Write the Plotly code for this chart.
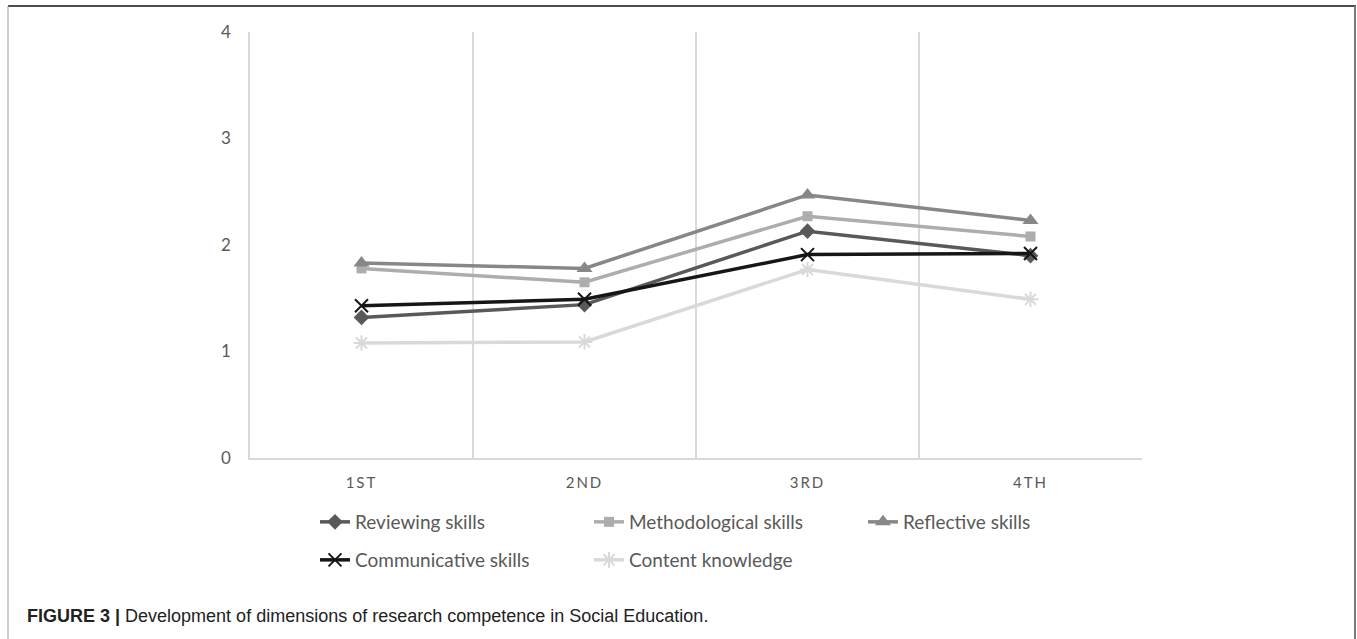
import plotly.graph_objects as go

# Academic years on the horizontal axis
years = ["1ST", "2ND", "3RD", "4TH"]

# Mean score of each research-competence dimension per year
reviewing = [1.32, 1.44, 2.13, 1.90]
methodological = [1.78, 1.65, 2.27, 2.08]
reflective = [1.83, 1.78, 2.47, 2.23]
communicative = [1.43, 1.49, 1.91, 1.92]
content = [1.08, 1.09, 1.77, 1.49]

series = [
    ("Reviewing skills", reviewing, "#595959", "diamond", 12, "legend"),
    ("Methodological skills", methodological, "#ADADAD", "square", 10, "legend"),
    ("Reflective skills", reflective, "#878787", "triangle-up", 14, "legend"),
    ("Communicative skills", communicative, "#161616", "x-thin-open", 13, "legend2"),
    ("Content knowledge", content, "#D9D9D9", "asterisk-open", 13, "legend2"),
]

W, H = 1357, 639
L, R, T, B = 250, 215, 32, 181
PW, PH = W - L - R, H - T - B

fig = go.Figure()
for name, vals, color, sym, size, leg in series:
    open_sym = sym.endswith("open")
    fig.add_trace(go.Scatter(
        x=years, y=vals, name=name, mode="lines+markers",
        line=dict(color=color, width=3.5),
        marker=dict(symbol=sym, size=size, color=color,
                    line=dict(color=color, width=2 if open_sym else 0)),
        legend=leg,
    ))

FONT = "Lato, 'Open Sans', sans-serif"
axis_font = dict(family=FONT, size=17, color="#595959")
legend_font = dict(family=FONT, size=19, color="#595959")


def px_x(px):
    return (px - L) / PW


def px_y(py):
    return (H - B - py) / PH


# spaced-out year labels, as in the spreadsheet chart style
year_labels = ['<span style="letter-spacing:2px">%s</span>' % y for y in years]

fig.update_layout(
    width=W, height=H,
    margin=dict(l=L, r=R, t=T, b=B),
    paper_bgcolor="white", plot_bgcolor="white",
    showlegend=True,
    xaxis=dict(
        type="category", range=[-0.5, 3.5], tickson="boundaries",
        tickmode="array", tickvals=years, ticktext=year_labels,
        showgrid=True, gridcolor="#D9D9D9", gridwidth=1.5,
        showline=True, linecolor="#D9D9D9", linewidth=2,
        ticks="", tickfont=dict(family=FONT, size=15, color="#595959"),
        ticklabelstandoff=10, zeroline=False,
    ),
    yaxis=dict(
        range=[0, 4], dtick=1, showgrid=False, zeroline=False,
        showline=True, linecolor="#D9D9D9", linewidth=1.5,
        ticks="", tickfont=axis_font, ticklabelstandoff=14,
    ),
    legend=dict(
        orientation="h", x=px_x(315), y=px_y(503), xanchor="left", yanchor="top",
        entrywidth=229, entrywidthmode="pixels", font=legend_font,
        bgcolor="rgba(0,0,0,0)", itemclick=False,
    ),
    legend2=dict(
        orientation="h", x=px_x(315), y=px_y(541), xanchor="left", yanchor="top",
        entrywidth=229, entrywidthmode="pixels", font=legend_font,
        bgcolor="rgba(0,0,0,0)", itemclick=False,
    ),
)

# Figure frame and caption
fig.add_shape(type="line", xref="paper", yref="paper",
              x0=px_x(8), x1=px_x(1356), y0=px_y(6), y1=px_y(6),
              line=dict(color="#4D4D4D", width=2))
fig.add_shape(type="line", xref="paper", yref="paper",
              x0=px_x(1355), x1=px_x(1355), y0=px_y(6), y1=px_y(645),
              line=dict(color="#7A7A7A", width=2))
fig.add_shape(type="line", xref="paper", yref="paper",
              x0=px_x(8), x1=px_x(8), y0=px_y(6), y1=px_y(645),
              line=dict(color="#9A9A9A", width=1))

fig.add_annotation(
    xref="paper", yref="paper", x=px_x(25), y=px_y(616),
    xanchor="left", yanchor="middle", showarrow=False,
    text="<b>FIGURE 3 |</b> Development of dimensions of research competence in Social Education.",
    font=dict(family="'Liberation Sans', Arial, sans-serif", size=18, color="#222222"),
)

fig.write_html("out.html")
